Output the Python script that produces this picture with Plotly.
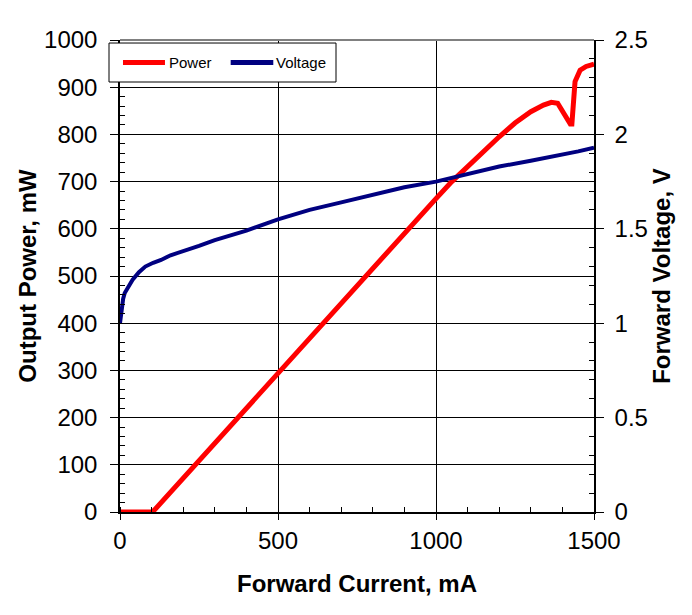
import plotly.graph_objects as go

# Data
current_power = [0, 100, 110, 200, 300, 400, 500, 600, 700, 800, 900, 1000, 1050, 1100,
                 1150, 1200, 1250, 1300, 1340, 1365, 1385, 1400, 1415, 1425, 1430, 1435,
                 1440, 1456, 1475, 1500]
power_mw = [0, 0, 5, 72, 146, 220, 294, 368, 442, 516, 590, 664, 700, 732,
            762, 795, 824, 848, 862, 868, 866, 848, 830, 822, 822, 880,
            912, 936, 944, 949]

current_voltage = [0, 5, 10, 15, 25, 40, 60, 80, 105, 130, 160, 200, 250, 300, 350, 400,
                   500, 600, 700, 800, 900, 1000, 1100, 1200, 1300, 1400, 1450, 1500]
voltage_v = [1.0, 1.08, 1.13, 1.16, 1.19, 1.23, 1.27, 1.30, 1.32, 1.335, 1.36, 1.38, 1.41,
             1.44, 1.465, 1.49, 1.55, 1.60, 1.64, 1.68, 1.72, 1.75, 1.79, 1.83, 1.86,
             1.89, 1.91, 1.93]

x_ticks = [0, 500, 1000, 1500]
y_ticks = list(range(0, 1001, 100))
y2_ticks = [0, 0.5, 1, 1.5, 2, 2.5]
y2_ticklabels = ["0", "0.5", "1", "1.5", "2", "2.5"]

series_names = ["Power", "Voltage"]
series_colors = ["#FF0000", "#000080"]
series_widths = [5, 4]

FONT = "Liberation Sans, Arial, sans-serif"

fig = go.Figure()
fig.add_trace(go.Scatter(x=current_power, y=power_mw, mode="lines", name=series_names[0],
                         line=dict(color=series_colors[0], width=series_widths[0])))
fig.add_trace(go.Scatter(x=current_voltage, y=voltage_v, mode="lines", name=series_names[1],
                         yaxis="y2", line=dict(color=series_colors[1], width=series_widths[1])))

# gray top border
fig.add_shape(type="line", xref="paper", yref="paper", x0=0, x1=1, y0=1, y1=1,
              line=dict(color="#808080", width=2), layer="above")

# legend box (drawn manually to match the reference layout)
fig.add_shape(type="rect", xref="paper", yref="paper", x0=-0.0232, x1=0.4557,
              y0=0.911, y1=0.9936, line=dict(color="black", width=1),
              fillcolor="white", layer="above")
legend_line_x = [(0.0063, 0.0949), (0.2335, 0.3234)]
legend_text_x = [0.1034, 0.3291]
for name, color, w, (lx0, lx1), tx in zip(series_names, series_colors, series_widths,
                                          legend_line_x, legend_text_x):
    fig.add_shape(type="line", xref="paper", yref="paper", x0=lx0, x1=lx1,
                  y0=0.9523, y1=0.9523, line=dict(color=color, width=5), layer="above")
    fig.add_annotation(xref="paper", yref="paper", x=tx, y=0.9523, text=name,
                       showarrow=False, xanchor="left", yanchor="middle", xshift=-2,
                       font=dict(family=FONT, size=15, color="black"))

fig.update_layout(
    width=692, height=615,
    margin=dict(l=120, r=98, t=40, b=103, autoexpand=False),
    paper_bgcolor="white", plot_bgcolor="white",
    font=dict(family=FONT, size=24, color="black"),
    showlegend=False,
    xaxis=dict(range=[0, 1500], tickvals=x_ticks, showgrid=True, gridcolor="black",
               gridwidth=1, showline=True, linecolor="black", linewidth=1.5,
               ticks="outside", ticklen=6, tickcolor="black", zeroline=False,
               minor=dict(ticks="inside", dtick=100, ticklen=5, tickcolor="black",
                          showgrid=False),
               title=dict(text="<b>Forward Current, mA</b>", standoff=23,
                          font=dict(family=FONT, size=24)),
               automargin=False),
    yaxis=dict(range=[0, 1000], tickvals=y_ticks, showgrid=True, gridcolor="black",
               gridwidth=1, showline=True, linecolor="black", linewidth=1.5,
               ticks="outside", ticklen=8, tickcolor="black", zeroline=False,
               ticklabelstandoff=8,
               minor=dict(ticks="inside", dtick=20, ticklen=5, tickcolor="black",
                          showgrid=False),
               title=dict(text="<b>Output Power, mW</b>", standoff=1,
                          font=dict(family=FONT, size=24)),
               automargin=False),
    yaxis2=dict(range=[0, 2.5], tickvals=y2_ticks, ticktext=y2_ticklabels,
                overlaying="y", side="right", showgrid=False, showline=True,
                linecolor="black", linewidth=1.5, ticks="outside", ticklen=8,
                tickcolor="black", zeroline=False, ticklabelstandoff=6,
                minor=dict(ticks="inside", dtick=0.1, ticklen=5, tickcolor="black",
                           showgrid=False),
                title=dict(text="<b>Forward Voltage, V</b>", standoff=2,
                           font=dict(family=FONT, size=24)),
                automargin=False),
)

fig.write_html("out.html")
